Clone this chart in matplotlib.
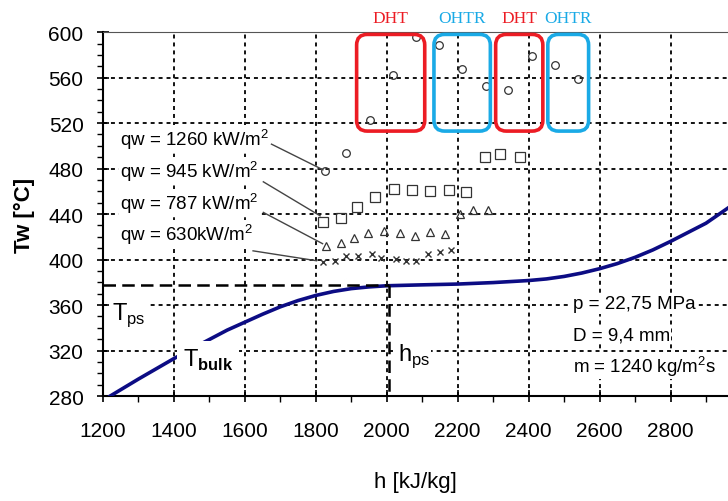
import matplotlib.pyplot as plt
from matplotlib.patches import FancyBboxPatch
from matplotlib.ticker import MultipleLocator

plt.rcParams['font.family'] = ['Liberation Sans', 'DejaVu Sans']
plt.rcParams['mathtext.fontset'] = 'custom'
plt.rcParams['mathtext.rm'] = 'Liberation Sans'
plt.rcParams['mathtext.bf'] = 'Liberation Sans:bold'

# bulk temperature curve
bulk_h = [1220, 1300, 1400, 1483, 1550, 1600, 1650, 1700, 1750, 1800, 1850, 1900, 1950, 2000,
          2100, 2200, 2300, 2400, 2450, 2500, 2550, 2600, 2650, 2700, 2750, 2800, 2850, 2900, 2965]
bulk_T = [280, 295, 313, 327, 338, 345, 352, 358.5, 364, 368.5, 372, 374.5, 376, 377,
          377.8, 378.5, 379.8, 381.6, 383, 385.2, 388.2, 392, 396.5, 402, 408.5, 416, 424, 432, 446]

# wall temperatures, qw = 1260 kW/m2
q1260_h = [1825, 1886, 1954, 2018, 2082, 2147, 2213, 2281, 2342, 2409, 2474, 2539]
q1260_T = [478, 494, 523, 562, 596, 589, 568, 553, 549, 579, 571, 559]
# qw = 945
q945_h = [1821, 1870, 1916, 1966, 2020, 2071, 2121, 2175, 2224, 2277, 2318, 2377]
q945_T = [433, 437, 446, 455, 462.5, 461, 460, 461.5, 459.5, 490, 492.5, 490]
# qw = 787
q787_h = [1830, 1872, 1907, 1947, 1992, 2036, 2079, 2123, 2163, 2206, 2243, 2285]
q787_T = [412, 414.5, 419, 423, 425, 423, 421, 424, 422.5, 440.5, 444, 443.5]
# qw = 630
q630_h = [1819, 1854, 1886, 1919, 1957, 1985, 2025, 2054, 2083, 2116, 2151, 2182]
q630_T = [397.5, 399, 403, 403.5, 405, 401, 400.5, 399, 399, 405, 407, 408.5]

q_labels = ['qw = 1260 kW/m$^2$', 'qw = 945 kW/m$^2$', 'qw = 787 kW/m$^2$', 'qw = 630kW/m$^2$']

# pseudo-critical point
T_ps = 377.5
h_ps = 2005

# DHT / OHTR regions
box_labels = ['DHT', 'OHTR', 'DHT', 'OHTR']
box_h0 = [1915, 2133, 2307, 2454]
box_h1 = [2107, 2292, 2440, 2569]
box_T0 = 513
box_T1 = 598
box_colors = ['#ec1c24', '#1aaae6', '#ec1c24', '#1aaae6']

conditions = ['p = 22,75 MPa', 'D = 9,4 mm', 'm = 1240 kg/m$^2$s']

fig = plt.figure(figsize=(7.28, 5.02), dpi=100)
ax = fig.add_axes([0.1415, 0.209, 0.8585, 0.725])

ax.set_xlim(1200, 2962)
ax.set_ylim(280, 600)
ax.xaxis.set_major_locator(MultipleLocator(200))
ax.xaxis.set_minor_locator(MultipleLocator(100))
ax.yaxis.set_major_locator(MultipleLocator(40))
ax.yaxis.set_minor_locator(MultipleLocator(10))
ax.tick_params(which='major', direction='inout', length=8, width=1.2, labelsize=15, pad=10)
ax.tick_params(which='minor', direction='out', length=4, width=1.0)
ax.tick_params(axis='x', pad=14)
ax.grid(True, which='major', color='black', linestyle=(0, (2.2, 2.2)), linewidth=1.3)
ax.spines['right'].set_visible(False)
ax.spines['left'].set_linewidth(1.5)
ax.spines['bottom'].set_linewidth(1.5)
ax.spines['top'].set_color('#555555')
ax.set_axisbelow(True)

ax.set_ylabel('Tw [°C]', fontsize=16, fontweight='bold', labelpad=10)
ax.set_xlabel('h [kJ/kg]', fontsize=16, labelpad=22)

ax.plot(bulk_h, bulk_T, color='#0c0c84', linewidth=2.6, zorder=3)

# pseudo-critical dashed lines
ax.plot([1200, h_ps], [T_ps, T_ps], color='black', linestyle=(0, (5, 2.5)), linewidth=1.8, zorder=4)
ax.plot([h_ps, h_ps], [T_ps, 280], color='black', linestyle=(0, (5, 2.5)), linewidth=1.8, zorder=4)

mk = dict(linestyle='none', markerfacecolor='none', markeredgecolor='#333333', zorder=5)
ax.plot(q1260_h, q1260_T, marker='o', markersize=5.5, markeredgewidth=0.9, **mk)
ax.plot(q945_h, q945_T, marker='s', markersize=7, markeredgewidth=0.9, **mk)
ax.plot(q787_h, q787_T, marker='^', markersize=6, markeredgewidth=0.9, **mk)
ax.plot(q630_h, q630_T, marker='x', markersize=4.5, markeredgewidth=1.0, **mk)

# labels for the heat flux series with leader lines
wb = dict(facecolor='white', edgecolor='none', pad=1)
label_T = [506, 478, 450, 422.5]
lead_start = [(1675, 501.5), (1652, 468.4), (1652, 441.5), (1623, 407.7)]
lead_end = [(1820, 479), (1812, 438.5), (1819, 414), (1802, 399)]
for lab, ty, s, e in zip(q_labels, label_T, lead_start, lead_end):
    ax.text(1248, ty, lab, fontsize=13.5, va='center', ha='left', bbox=wb, zorder=6)
    ax.plot([s[0], e[0]], [s[1], e[1]], color='#444444', linewidth=1.0, zorder=6)

ax.text(1225, 352, 'T$_{\\mathrm{ps}}$', fontsize=17, va='center', ha='left', bbox=wb, zorder=6)
ax.text(1425, 312, 'T$_{\\mathbf{bulk}}$', fontsize=17, va='center', ha='left',
        bbox=dict(facecolor='white', edgecolor='none', pad=4), zorder=6)
ax.text(2031, 316, 'h$_{\\mathrm{ps}}$', fontsize=17, va='center', ha='left', bbox=wb, zorder=6)

for i, txt in enumerate(conditions):
    ax.text(2524, 361 - 27 * i, txt, fontsize=13.5, va='center', ha='left', bbox=wb, zorder=6)

# highlighted regions
for lab, h0, h1, c in zip(box_labels, box_h0, box_h1, box_colors):
    box = FancyBboxPatch((h0, box_T0), h1 - h0, box_T1 - box_T0,
                         boxstyle='round,pad=0,rounding_size=30', mutation_aspect=0.31,
                         facecolor='none', edgecolor=c, linewidth=2.6, zorder=7, clip_on=False)
    ax.add_patch(box)
    ax.text((h0 + h1) / 2, 612, lab, color=c, fontsize=12.5, family='Liberation Serif',
            ha='center', va='center', clip_on=False)

fig.savefig('out.png', dpi=100)
